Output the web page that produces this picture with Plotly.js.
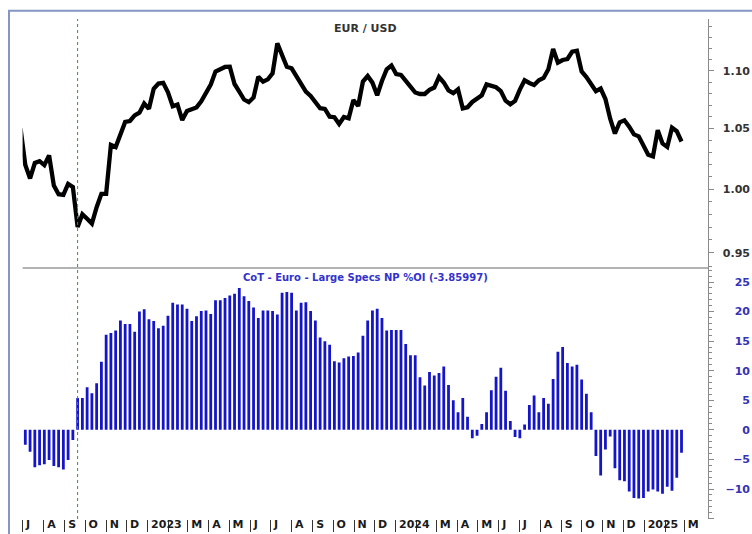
<!DOCTYPE html>
<html>
<head>
<meta charset="utf-8">
<script src="https://cdn.plot.ly/plotly-3.0.1.min.js"></script>
<style>
  html, body { margin: 0; padding: 0; background: #ffffff; }
  #chart { width: 752px; height: 534px; }
</style>
</head>
<body>
<div id="chart"></div>
<script>
// ---- Data ----
// EUR/USD weekly closes, first week 2022-06-28
const priceStart = '2022-06-28';
const eurusd = [
  1.050,
  1.0196, 1.0087, 1.0213, 1.0228, 1.0196, 1.0276, 1.0030, 0.9960, 0.9955, 1.0042,
  1.0018, 0.9700, 0.9800, 0.9765, 0.9727, 0.9856, 0.9963, 0.9963, 1.0363, 1.0345,
  1.0450, 1.0556, 1.0564, 1.0612, 1.0635, 1.0714, 1.0668, 1.0841, 1.0887, 1.0893,
  1.0811, 1.0690, 1.0704, 1.0572, 1.0650, 1.0663, 1.0680, 1.0732, 1.0806, 1.0878,
  1.0993, 1.1008, 1.1033, 1.1035, 1.0883, 1.0817, 1.0748, 1.0725, 1.0766, 1.0947,
  1.0903, 1.0924, 1.0977, 1.1244, 1.1125, 1.1035, 1.1021, 1.0947, 1.0874, 1.0816,
  1.0779, 1.0721, 1.0673, 1.0667, 1.0601, 1.0596, 1.0539, 1.0598, 1.0587, 1.0744,
  1.0692, 1.0905, 1.0953, 1.0895, 1.0784, 1.0909, 1.1012, 1.1046, 1.0971, 1.0962,
  1.0905, 1.0861, 1.0809, 1.0796, 1.0796, 1.0832, 1.0852, 1.0944, 1.0896, 1.0827,
  1.0803, 1.0836, 1.0671, 1.0681, 1.0727, 1.0752, 1.0785, 1.0879, 1.0866, 1.0854,
  1.0821, 1.0738, 1.0707, 1.0736, 1.0834, 1.0916, 1.0892, 1.0874, 1.0916, 1.0936,
  1.1012, 1.1194, 1.1071, 1.1095, 1.1104, 1.1169, 1.1178, 1.0993, 1.0944, 1.0879,
  1.0821, 1.0843, 1.0752, 1.0584, 1.0458, 1.0553, 1.0570, 1.0516, 1.0451, 1.0434,
  1.0350, 1.0281, 1.0268, 1.0486, 1.0375, 1.0346, 1.0507, 1.0478, 1.0391
];

// CoT Euro Large Specs net position % of OI, first week 2022-07-05
const cotStart = '2022-07-05';
const cotNP = [
  -2.5, -3.7, -6.3, -6.0, -5.8, -5.1, -6.1, -6.3, -6.7, -5.1,
  -1.7, 5.4, 5.4, 7.2, 6.2, 7.9, 11.5, 16.1, 16.4, 16.8,
  18.5, 17.9, 17.9, 16.6, 20.0, 20.4, 18.7, 18.4, 17.2, 17.6,
  19.3, 21.5, 21.2, 21.2, 20.5, 18.4, 19.2, 20.1, 20.2, 19.6,
  21.9, 21.9, 22.3, 22.7, 23.0, 24.0, 22.6, 21.8, 20.7, 18.9,
  20.2, 20.2, 20.1, 19.5, 23.2, 23.3, 23.2, 20.2, 21.5, 21.6,
  20.1, 18.5, 15.6, 15.0, 14.4, 11.6, 11.4, 12.1, 12.4, 12.5,
  13.1, 15.9, 18.5, 20.2, 20.5, 18.9, 16.8, 16.9, 16.9, 16.9,
  14.5, 12.6, 12.6, 8.9, 7.5, 9.8, 9.2, 9.6, 10.7, 7.6,
  5.0, 3.0, 5.4, 2.2, -1.4, -1.0, 1.0, 3.0, 6.7, 9.0,
  10.5, 6.6, 1.5, -1.2, -1.4, 0.9, 4.2, 5.8, 3.0, 5.4,
  4.4, 8.6, 13.2, 14.0, 11.3, 10.7, 11.0, 8.5, 6.1, 3.0,
  -4.4, -7.7, -3.3, -1.1, -6.5, -8.5, -8.7, -10.4, -11.5, -11.6,
  -11.5, -10.4, -10.1, -10.4, -10.8, -9.6, -10.3, -8.1, -3.85997
];

// x-axis month ticks and labels
const monthTicks = [
  '2022-07-01','2022-08-01','2022-09-01','2022-10-01','2022-11-01','2022-12-01',
  '2023-01-01','2023-02-01','2023-03-01','2023-04-01','2023-05-01','2023-06-01',
  '2023-07-01','2023-08-01','2023-09-01','2023-10-01','2023-11-01','2023-12-01',
  '2024-01-01','2024-02-01','2024-03-01','2024-04-01','2024-05-01','2024-06-01',
  '2024-07-01','2024-08-01','2024-09-01','2024-10-01','2024-11-01','2024-12-01',
  '2025-01-01','2025-02-01','2025-03-01'
];
const monthLabels = [
  'J','A','S','O','N','D',
  '2023','','M','A','M','J',
  'J','A','S','O','N','D',
  '2024','','M','A','M','J',
  'J','A','S','O','N','D',
  '2025','','M'
];

const priceTicks = [0.95, 1.00, 1.05, 1.10];
const priceTickText = ['0.95', '1.00', '1.05', '1.10'];
const cotTicks = [-10, -5, 0, 5, 10, 15, 20, 25];

// ---- Build weekly date arrays ----
function weekly(start, n) {
  const t0 = Date.parse(start + 'T00:00:00Z');
  const out = [];
  for (let k = 0; k < n; k++) out.push(new Date(t0 + k * 7 * 86400000).toISOString().slice(0, 10));
  return out;
}
const priceDates = weekly(priceStart, eurusd.length);
const cotDates = weekly(cotStart, cotNP.length);
const crossDate = cotDates[cotNP.findIndex(v => v > 0)];

const W = 752, H = 534;
const mT = 19, mB = 15;
const plotH = H - mT - mB;
const px = v => v / W;             // page x -> paper x
const py = v => (H - mB - v) / plotH; // page y -> paper y

const FONT = 'DejaVu Sans, Verdana, sans-serif';
const splitY = py(268);

const traces = [
  {
    type: 'bar', x: cotDates, y: cotNP, xaxis: 'x', yaxis: 'y2',
    marker: { color: '#1414c8', line: { width: 0 } },
    width: 4.1 * 86400000, hoverinfo: 'skip'
  },
  {
    type: 'scatter', mode: 'lines', x: priceDates, y: eurusd, xaxis: 'x', yaxis: 'y',
    line: { color: '#000000', width: 4.3 }, hoverinfo: 'skip'
  },
  { type: 'scatter', mode: 'lines', x: priceDates, y: eurusd, yaxis: 'y3', line: { width: 0 }, opacity: 0, hoverinfo: 'skip' },
  { type: 'scatter', mode: 'lines', x: cotDates, y: cotNP, yaxis: 'y4', line: { width: 0 }, opacity: 0, hoverinfo: 'skip' }
];

const priceRange = [Math.log10(0.9386), Math.log10(1.1467)];
const cotRange = [-15.07, 27.37];
const axisGrey = '#8a8a8a';

const layout = {
  width: W, height: H,
  margin: { l: 0, r: 0, t: mT, b: mB, pad: 0 },
  paper_bgcolor: '#ffffff', plot_bgcolor: '#ffffff',
  showlegend: false,
  xaxis: {
    type: 'date', domain: [px(22.6), px(708)], range: ['2022-07-01', '2025-04-05'],
    anchor: 'y2', tickmode: 'array', tickvals: monthTicks, ticktext: monthLabels,
    ticks: 'outside', ticklen: 12, tickwidth: 1, tickcolor: '#333', tickangle: 0,
    ticklabelposition: 'outside right', ticklabelshift: 3, ticklabelstandoff: -5,
    tickfont: { family: FONT, size: 11, color: '#1a1a1a', weight: 'bold' },
    showgrid: false, zeroline: false, showline: false, fixedrange: true
  },
  yaxis: {
    domain: [splitY, 1], type: 'log', range: priceRange, anchor: 'x', side: 'right',
    showline: true, linecolor: axisGrey, linewidth: 1,
    ticks: 'outside', ticklen: 5, tickcolor: axisGrey, tickmode: 'array', tickvals: priceTicks,
    showticklabels: false, showgrid: false, zeroline: false, fixedrange: true,
    minor: { dtick: 'L0.01', ticks: 'outside', ticklen: 3, tickcolor: axisGrey, showgrid: false }
  },
  yaxis2: {
    domain: [0, splitY], range: cotRange, anchor: 'x', side: 'right',
    showline: true, linecolor: axisGrey, linewidth: 1,
    ticks: 'outside', ticklen: 5, tickcolor: axisGrey, tickmode: 'linear', tick0: 0, dtick: 5,
    showticklabels: false, showgrid: false, zeroline: false, fixedrange: true,
    minor: { dtick: 1, ticks: 'outside', ticklen: 3, tickcolor: axisGrey, showgrid: false }
  },
  yaxis3: {
    overlaying: 'y', type: 'log', range: priceRange, side: 'left', anchor: 'free', position: px(750),
    showline: false, ticks: '', tickmode: 'array', tickvals: priceTicks, ticktext: priceTickText,
    tickfont: { family: FONT, size: 11, color: '#333333', weight: 'bold' },
    showgrid: false, zeroline: false, fixedrange: true
  },
  yaxis4: {
    overlaying: 'y2', range: cotRange, side: 'left', anchor: 'free', position: px(750),
    showline: false, ticks: '', tickmode: 'array', tickvals: cotTicks,
    tickfont: { family: FONT, size: 11, color: '#3434b4', weight: 'bold' },
    showgrid: false, zeroline: false, fixedrange: true
  },
  shapes: [
    { type: 'line', xref: 'paper', yref: 'paper', x0: px(8), x1: 1, y0: py(10.7), y1: py(10.7),
      line: { color: '#8496c4', width: 2 } },
    { type: 'line', xref: 'paper', yref: 'paper', x0: px(9), x1: px(9), y0: py(10.7), y1: py(536),
      line: { color: '#8496c4', width: 2 } },
    { type: 'line', xref: 'paper', yref: 'paper', x0: px(22.6), x1: px(708), y0: splitY, y1: splitY,
      line: { color: '#9a9a9a', width: 1.5 } },
    { type: 'line', xref: 'x', yref: 'paper', x0: crossDate, x1: crossDate, y0: 0, y1: 1,
      line: { color: '#2f9a2f', width: 1, dash: 'dot' } }
  ],
  annotations: [
    { xref: 'paper', yref: 'paper', x: px(365.3), y: py(28), text: 'EUR / USD', showarrow: false,
      xanchor: 'center', yanchor: 'middle',
      font: { family: FONT, size: 11, color: '#333333', weight: 'bold' } },
    { xref: 'paper', yref: 'paper', x: px(365.3), y: py(277),
      text: 'CoT - Euro - Large Specs NP %OI (' + cotNP[cotNP.length - 1] + ')', showarrow: false,
      xanchor: 'center', yanchor: 'middle',
      font: { family: FONT, size: 10, color: '#3333cc', weight: 'bold' } }
  ]
};

Plotly.newPlot('chart', traces, layout, { displayModeBar: false, staticPlot: true });
</script>
</body>
</html>
